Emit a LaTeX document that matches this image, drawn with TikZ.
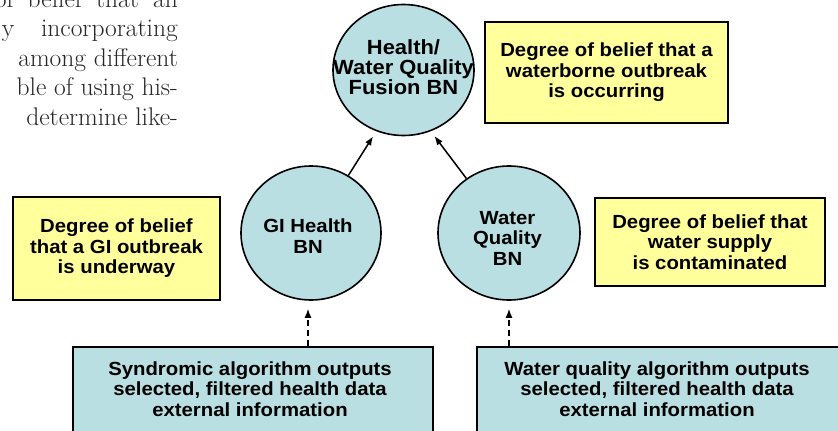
\documentclass[tikz,border=0pt]{standalone}
\usepackage{fontspec}
\newfontfamily\labelfont{Liberation Sans}[FakeStretch=1.07]
\usetikzlibrary{shapes.geometric,arrows.meta}
\definecolor{bnblue}{HTML}{B9DFE3}
\definecolor{noteyellow}{HTML}{FFFF9C}

\begin{document}
\begin{tikzpicture}[x=1pt,y=-1pt,
  lbl/.style={font=\labelfont\bfseries\fontsize{19}{20.5}\selectfont, align=center, text=black, inner sep=0pt},
  biglbl/.style={lbl, font=\labelfont\bfseries\fontsize{20.5}{20}\selectfont},
  bn/.style={ellipse, draw=black, line width=1.6pt, fill=bnblue, inner sep=0pt},
  note/.style={lbl, rectangle, draw=black, line width=1.6pt, fill=noteyellow},
  source/.style={rectangle, draw=black, line width=1.6pt, fill=bnblue, inner sep=0pt},
  link/.style={line width=1.5pt, -{Latex[length=9pt,width=7pt]}, shorten >=6pt},
  feed/.style={link, dash pattern=on 6pt off 4pt, shorten >=0pt},
  body/.style={font=\fontsize{25.5}{29.5}\selectfont, text=black!85, anchor=base east, inner sep=0pt}
]
\useasboundingbox (0,0) rectangle (838,431);
\clip (0,0) rectangle (838,431);

% running text of the page beside the figure
\node[body] (t1) at (178,7)     {\makebox[183pt][s]{of belief that an}};
\node[body] (t2) at (178,36.5)  {\makebox[176pt][s]{y incorporating}};
\node[body] (t3) at (178,66)    {among different};
\node[body] (t4) at (178,95.5)  {ble of using his-};
\node[body] (t5) at (178,125)   {determine like-};

% Bayesian networks (outline and caption drawn separately so the caption
% does not inflate the ellipse)
\node[bn, minimum width=141pt, minimum height=131pt] (fusion) at (403.5,70) {};
\node[biglbl] (fusiontxt) at (403.5,67.5) {Health/\\Water Quality\\Fusion BN};
\node[bn, minimum width=140pt, minimum height=134pt] (gi) at (311,233) {};
\node[lbl] (gitxt) at (308,236) {GI Health\\BN};
\node[bn, minimum width=142pt, minimum height=134pt] (wq) at (509,233) {};
\node[lbl] (wqtxt) at (507.5,238) {Water\\Quality\\BN};

% belief notes
\node[note, minimum width=243pt, minimum height=101pt] (nfusion) at (606.5,72.5)
  {Degree of belief that a\\waterborne outbreak\\is occurring};
\node[note, minimum width=207pt, minimum height=103pt] (ngi) at (116.5,248.5)
  {Degree of belief\\that a GI outbreak\\is underway};
\node[note, minimum width=230pt, minimum height=88pt] (nwq) at (710,242)
  {Degree of belief that\\water supply\\is contaminated};

% data sources (boxes run past the lower edge)
\node[source, minimum width=360pt, minimum height=98pt] (sgi) at (253,396) {};
\node[lbl] (sgitxt) at (250,389)
  {Syndromic algorithm outputs\\selected, filtered health data\\external information};
\node[source, minimum width=368pt, minimum height=98pt] (swq) at (661,396) {};
\node[lbl] (swqtxt) at (657,389)
  {Water quality algorithm outputs\\selected, filtered health data\\external information};

% connectors
\draw[link] (gi.57) -- (fusion.246);
\draw[link] (wq.128) -- (fusion.294);
\draw[feed] (sgi.north -| gitxt) -- ([yshift=-8pt]gi.south -| gitxt);
\draw[feed] (swq.north -| wq.south) -- ([yshift=-8pt]wq.south);
\end{tikzpicture}
\end{document}
